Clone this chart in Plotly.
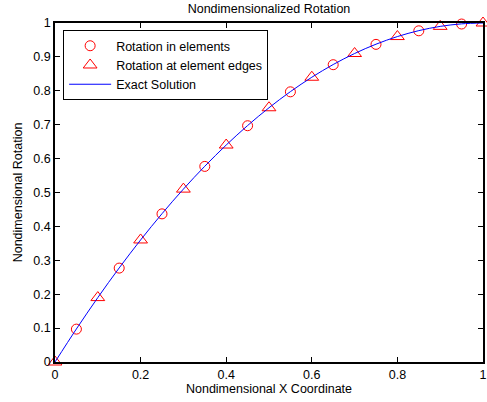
import plotly.graph_objects as go

x_edges = [0, 0.1, 0.2, 0.3, 0.4, 0.5, 0.6, 0.7, 0.8, 0.9, 1.0]
rot_edges = [0, 0.19, 0.36, 0.51, 0.64, 0.75, 0.84, 0.91, 0.96, 0.99, 1.0]
x_elem = [0.05, 0.15, 0.25, 0.35, 0.45, 0.55, 0.65, 0.75, 0.85, 0.95]
rot_elem = [0.097, 0.277, 0.437, 0.577, 0.697, 0.797, 0.877, 0.937, 0.977, 0.997]
x_exact = [0, 0.05, 0.1, 0.15, 0.2, 0.25, 0.3, 0.35, 0.4, 0.45, 0.5, 0.55, 0.6, 0.65, 0.7, 0.75, 0.8, 0.85, 0.9, 0.95, 1.0]
rot_exact = [0, 0.0975, 0.19, 0.2775, 0.36, 0.4375, 0.51, 0.5775, 0.64, 0.6975, 0.75, 0.7975, 0.84, 0.8775, 0.91, 0.9375, 0.96, 0.9775, 0.99, 0.9975, 1.0]

fig = go.Figure()
fig.add_trace(go.Scatter(x=x_elem, y=rot_elem, mode="markers", name="Rotation in elements", cliponaxis=False,
                         marker=dict(symbol="circle-open", size=10, color="red", line=dict(width=1, color="red"))))
fig.add_trace(go.Scatter(x=x_edges, y=rot_edges, mode="markers", name="Rotation at element edges", cliponaxis=False,
                         marker=dict(symbol="triangle-up-open", size=12, color="red", line=dict(width=1, color="red"))))
fig.add_trace(go.Scatter(x=x_exact, y=rot_exact, mode="lines", name="Exact Solution",
                         line=dict(color="blue", width=1), line_shape="spline"))

fs = 12.5
axis_common = dict(showline=True, linecolor="black", linewidth=1.5, mirror="ticks", ticks="inside",
                   ticklen=5, tickcolor="black", tickwidth=1, showgrid=False, zeroline=False,
                   ticklabeloverflow="allow", tickfont=dict(size=fs, color="black"))
fig.update_layout(
    width=487, height=402, autosize=False,
    margin=dict(l=55, r=4, t=23, b=40, autoexpand=False),
    paper_bgcolor="white", plot_bgcolor="white",
    font=dict(family="Liberation Sans, Arial", size=fs, color="black"),
    title=dict(text="Nondimensionalized Rotation", x=0.5, xanchor="center", y=0.99, yanchor="top",
               xref="paper", font=dict(size=fs)),
    xaxis=dict(range=[0, 1], tickvals=[0, 0.2, 0.4, 0.6, 0.8, 1], ticktext=["0", "0.2", "0.4", "0.6", "0.8", "1"],
               title=dict(text="Nondimensional X Coordinate", standoff=0, font=dict(size=fs)), **axis_common),
    yaxis=dict(range=[0, 1], tickvals=[i / 10 for i in range(11)],
               ticktext=["0", "0.1", "0.2", "0.3", "0.4", "0.5", "0.6", "0.7", "0.8", "0.9", "1"],
               title=dict(text="Nondimensional Rotation", standoff=8, font=dict(size=fs)), **axis_common),
    legend=dict(x=0.019, y=0.979, xanchor="left", yanchor="top", bordercolor="black", borderwidth=1,
                bgcolor="white", font=dict(size=fs), tracegroupgap=0, itemwidth=42),
    showlegend=True,
)
fig.write_html("out.html")
